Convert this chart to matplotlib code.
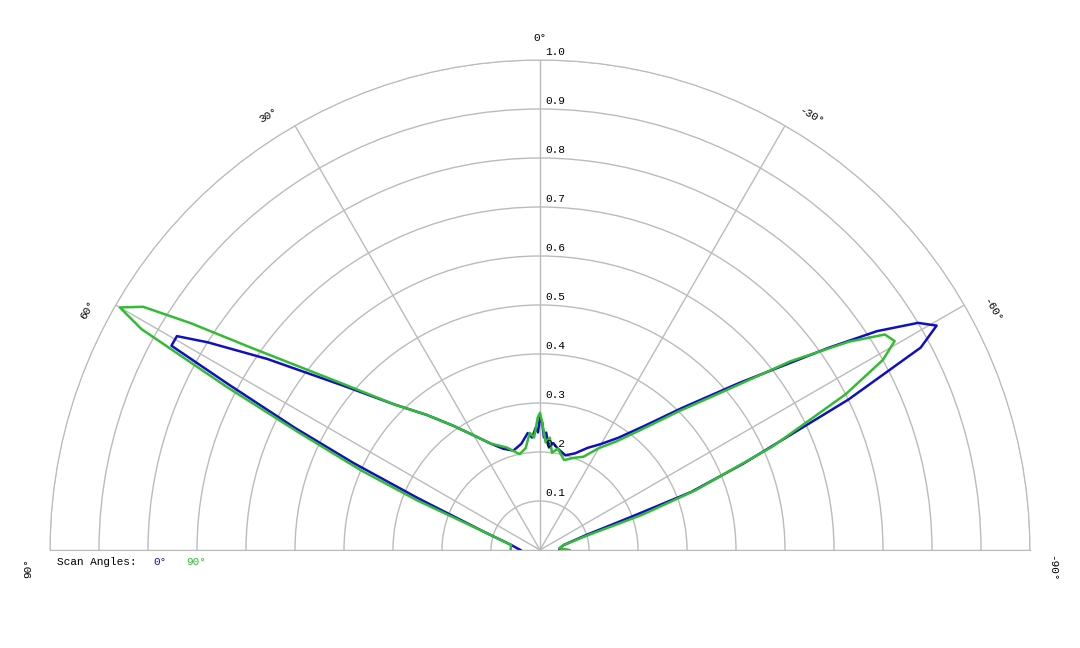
import numpy as np
import matplotlib
matplotlib.use('Agg')
import matplotlib.pyplot as plt

# angle (deg) -> relative intensity
blue_ang = [-90, -85, -78, -72, -70, -69, -67, -64, -62, -60.5, -59, -57, -55, -50, -45, -40, -35, -30,
            -25, -20, -15, -10, -7, -5, -3, -2, -1, 0, 1, 2, 4, 6, 10, 15, 20, 25, 30, 35, 40, 45,
            50, 55, 58, 59.5, 61, 62, 63.5, 65, 67, 72, 80, 90]
blue_r = [0.04, 0.04, 0.05, 0.10, 0.20, 0.33, 0.45, 0.70, 0.88, 0.93, 0.90, 0.82, 0.72, 0.53, 0.41, 0.33, 0.28, 0.25,
          0.23, 0.21, 0.20, 0.21, 0.22, 0.21, 0.24, 0.23, 0.26, 0.27, 0.24, 0.25, 0.23, 0.24, 0.22, 0.21, 0.22, 0.24, 0.27, 0.31, 0.36, 0.42,
          0.52, 0.68, 0.80, 0.86, 0.86, 0.72, 0.56, 0.42, 0.27, 0.12, 0.06, 0.04]

green_ang = [-90, -85, -78, -73, -71, -69, -66, -63, -61, -59.5, -58, -56, -53, -50, -45, -40, -35, -30,
             -25, -20, -15, -10, -7, -5, -3, -1, 0, 1, 3, 5, 8, 12, 18, 25, 30, 35, 40, 45,
             50, 55, 57, 58.5, 60, 61, 62.5, 64, 66, 68, 72, 80, 90]
green_r = [0.06, 0.04, 0.05, 0.10, 0.22, 0.34, 0.52, 0.70, 0.80, 0.84, 0.83, 0.76, 0.64, 0.52, 0.40, 0.32, 0.27, 0.24,
           0.21, 0.20, 0.19, 0.21, 0.20, 0.23, 0.22, 0.26, 0.28, 0.27, 0.23, 0.24, 0.21, 0.20, 0.22, 0.24, 0.27, 0.31, 0.36, 0.42,
           0.53, 0.72, 0.85, 0.95, 0.99, 0.93, 0.72, 0.55, 0.40, 0.27, 0.12, 0.06, 0.06]

rad_ticks = [0.1, 0.2, 0.3, 0.4, 0.5, 0.6, 0.7, 0.8, 0.9, 1.0]
ang_ticks = [-90, -60, -30, 0, 30, 60, 90]

mono = 'Liberation Mono'
fig = plt.figure(figsize=(10.8, 6.48), dpi=100)
# half circle is fitted into a square box; centre at (540, 550) px, radius 490 px
ax = fig.add_axes([50 / 1080, -147 / 648, 980 / 1080, 980 / 648], projection='polar')
ax.set_theta_zero_location('N')
ax.set_theta_direction(1)
ax.set_thetamin(-90)
ax.set_thetamax(90)
ax.set_ylim(0, 1.0)
ax.set_yticks(rad_ticks)
ax.set_xticks(np.deg2rad(ang_ticks))
ax.set_yticklabels([])
ax.set_xticklabels([])
ax.grid(color='#bbbbbb', linewidth=1)
for s in ax.spines.values():
    s.set_color('#bbbbbb')

ax.plot(np.deg2rad(blue_ang), blue_r, color='#1010c0', lw=1.8, zorder=3)
ax.plot(np.deg2rad(green_ang), green_r, color='#33bb33', lw=1.8, zorder=3)

for r in rad_ticks:
    ax.annotate(f'{r:.1f}', (0, r), xytext=(4, 6), textcoords='offset points',
                fontsize=8, family=mono, ha='left', va='center')
for a in ang_ticks:
    ax.text(np.deg2rad(a + (2 if a > 0 else -2 if a < 0 else 0)), 1.045, f'{a}°', fontsize=8, family=mono,
            rotation=a, rotation_mode='anchor', ha='center', va='center')

fig.text(57 / 1080, 1 - 562 / 648, 'Scan Angles:', fontsize=8, family=mono, va='center')
fig.text(153 / 1080, 1 - 562 / 648, '0°', fontsize=8, family=mono, color='#1010c0', va='center')
fig.text(186 / 1080, 1 - 562 / 648, '90°', fontsize=8, family=mono, color='#33bb33', va='center')

fig.savefig('out.png')
